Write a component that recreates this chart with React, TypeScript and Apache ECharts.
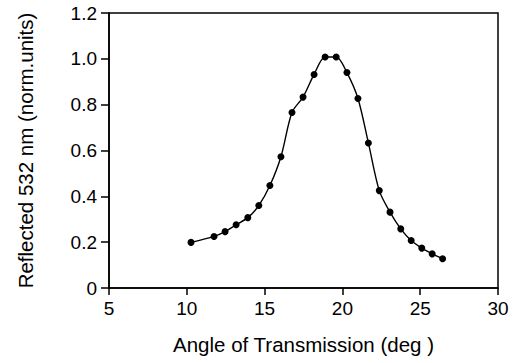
import React, { useEffect, useRef } from "react";
import * as echarts from "echarts";

const angles = [10.27, 11.75, 12.46, 13.17, 13.92, 14.63, 15.34, 16.05, 16.76, 17.47, 18.18, 18.89, 19.6, 20.29, 21.0, 21.67, 22.37, 23.06, 23.75, 24.42, 25.1, 25.77, 26.44];
const reflected = [0.199, 0.225, 0.246, 0.276, 0.307, 0.36, 0.447, 0.573, 0.766, 0.833, 0.932, 1.008, 1.008, 0.94, 0.827, 0.633, 0.425, 0.331, 0.258, 0.207, 0.174, 0.149, 0.128];

const xTitle = "Angle of Transmission (deg )";
const yTitle = "Reflected 532 nm (norm.units)";

export default function App() {
  const ref = useRef<HTMLDivElement>(null);
  useEffect(() => {
    if (!ref.current) return;
    const chart = echarts.init(ref.current, undefined, { renderer: "svg" });
    const font = "'Liberation Sans', Arial, Helvetica, sans-serif";
    chart.setOption({
      animation: false,
      backgroundColor: "#ffffff",
      grid: {
        left: 109,
        right: 18,
        top: 13,
        bottom: 75,
        show: true,
        borderColor: "#000",
        borderWidth: 1.5,
        backgroundColor: "transparent",
      },
      xAxis: {
        type: "value",
        min: 5,
        max: 30,
        interval: 5,
        name: xTitle,
        nameLocation: "middle",
        nameGap: 46,
        nameTextStyle: { color: "#000", fontSize: 20.5, fontFamily: font },
        axisLine: { show: true, onZero: false, lineStyle: { color: "#000", width: 1.6 } },
        axisTick: { show: true, inside: false, length: 7, lineStyle: { color: "#000", width: 1.5 } },
        axisLabel: { color: "#000", fontSize: 19, fontFamily: font, margin: 11 },
        splitLine: { show: false },
      },
      yAxis: {
        type: "value",
        min: 0,
        max: 1.2,
        interval: 0.2,
        name: yTitle,
        nameLocation: "middle",
        nameGap: 73,
        nameTextStyle: { color: "#000", fontSize: 20.5, fontFamily: font },
        axisLine: { show: true, onZero: false, lineStyle: { color: "#000", width: 1.6 } },
        axisTick: { show: true, inside: false, length: 8, lineStyle: { color: "#000", width: 1.5 } },
        axisLabel: {
          color: "#000",
          fontSize: 19,
          fontFamily: font,
          margin: 12,
          formatter: (v: number) => (v === 0 ? "0" : v.toFixed(1)),
        },
        splitLine: { show: false },
      },
      series: [
        {
          type: "line",
          data: angles.map((a, i) => [a, reflected[i]]),
          smooth: 0.3,
          symbol: "circle",
          symbolSize: 7,
          showSymbol: true,
          itemStyle: { color: "#000" },
          lineStyle: { color: "#000", width: 1.4 },
        },
      ],
    });
    return () => chart.dispose();
  }, []);
  return (
    <div
      ref={ref}
      style={{ position: "absolute", left: 0, top: 0, width: 516, height: 363 }}
    />
  );
}
